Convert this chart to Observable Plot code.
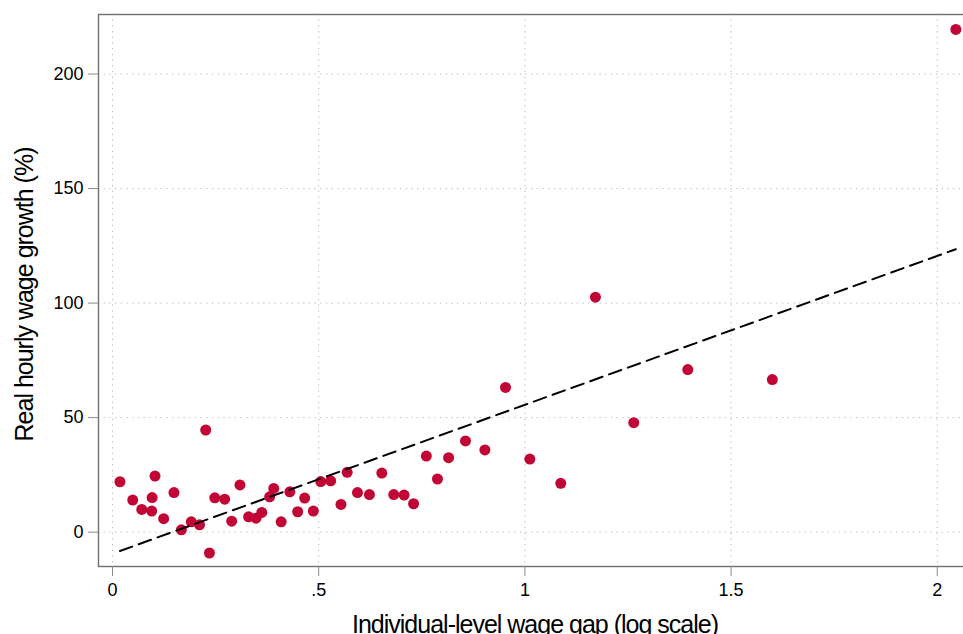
<!DOCTYPE html>
<html>
<head>
<meta charset="utf-8">
<script src="https://cdn.jsdelivr.net/npm/d3@7"></script>
<script src="https://cdn.jsdelivr.net/npm/@observablehq/plot@0.6"></script>
<style>
  html, body { margin: 0; padding: 0; background: #fff; overflow: hidden; }
  #chart svg { overflow: hidden; }
</style>
</head>
<body>
<div id="chart"></div>
<script>
// Individual-level wage gap (log points) and real hourly wage growth (%), one point per unit
const gap = [
  0.018, 0.049, 0.103, 0.071, 0.095, 0.096, 0.124, 0.149, 0.226, 0.167,
  0.191, 0.211, 0.235, 0.248, 0.272, 0.289, 0.309, 0.330, 0.348, 0.362,
  0.381, 0.391, 0.409, 0.430, 0.449, 0.466, 0.487, 0.505, 0.529, 0.554,
  0.569, 0.594, 0.623, 0.653, 0.682, 0.707, 0.730, 0.761, 0.788, 0.815,
  0.856, 0.903, 0.953, 1.012, 1.087, 1.171, 1.264, 1.395, 1.600, 2.045
];
const growth = [
  22.0, 14.0, 24.5, 9.9, 9.2, 15.1, 5.9, 17.3, 44.6, 1.0,
  4.5, 3.2, -9.1, 15.0, 14.4, 4.8, 20.6, 6.7, 6.1, 8.6,
  15.4, 19.1, 4.5, 17.6, 8.9, 14.9, 9.2, 22.1, 22.4, 12.1,
  26.1, 17.3, 16.4, 25.8, 16.4, 16.2, 12.4, 33.2, 23.2, 32.5,
  39.8, 35.9, 63.2, 31.9, 21.3, 102.6, 47.8, 71.0, 66.6, 219.5
];

// Fitted line: growth = fitIntercept + fitSlope * gap
const fitIntercept = -9.4;
const fitSlope = 65.0;

const xTicks = [0, 0.5, 1, 1.5, 2];
const xTickLabels = ["0", ".5", "1", "1.5", "2"];
const yTicks = [0, 50, 100, 150, 200];

const xTitle = "Individual-level wage gap (log scale)";
const yTitle = "Real hourly wage growth (%)";

const points = gap.map((g, i) => ({gap: g, growth: growth[i]}));
const fitLine = d3.extent(gap).map(g => ({gap: g, growth: fitIntercept + fitSlope * g}));

const font = "'Liberation Sans', Arial, Helvetica, sans-serif";
const gridStyle = {stroke: "#b4b4b4", strokeOpacity: 1, strokeWidth: 1, strokeDasharray: "1.2,4.5"};

const chart = Plot.plot({
  width: 963,
  height: 634,
  marginLeft: 98,
  marginRight: -8,
  marginTop: 14,
  marginBottom: 68,
  style: {fontFamily: font, fontSize: "18px", color: "black", background: "white"},
  x: {domain: [-0.034, 2.083]},
  y: {domain: [-15, 226]},
  marks: [
    Plot.gridX(xTicks, gridStyle),
    Plot.gridY(yTicks, gridStyle),
    Plot.frame({stroke: "#707070", strokeWidth: 1.4}),
    Plot.axisX(xTicks, {
      tickSize: 10, tickPadding: 7, stroke: "#8a8a8a", fill: "black",
      tickFormat: d => xTickLabels[xTicks.indexOf(d)], label: null
    }),
    Plot.axisY(yTicks, {
      tickSize: 10, tickPadding: 5, stroke: "#8a8a8a", fill: "black",
      tickFormat: d => String(d), label: null
    }),
    Plot.dot(points, {x: "gap", y: "growth", r: 5.5, fill: "#c10534"}),
    Plot.line(fitLine, {x: "gap", y: "growth", stroke: "black", strokeWidth: 2, strokeDasharray: "13,7"}),
    Plot.text([xTitle], {
      frameAnchor: "bottom", textAnchor: "middle", lineAnchor: "bottom",
      dy: 66, fontSize: 25, fill: "black"
    }),
    Plot.text([yTitle], {
      frameAnchor: "left", textAnchor: "middle", lineAnchor: "middle",
      rotate: -90, dx: -74, dy: 4, fontSize: 25, fill: "black"
    })
  ]
});

// Tighten the tracking of the two axis titles
d3.select(chart).selectAll("text")
  .filter(function () { return this.textContent === xTitle || this.textContent === yTitle; })
  .style("letter-spacing", "-1px");

document.getElementById("chart").appendChild(chart);
</script>
</body>
</html>
